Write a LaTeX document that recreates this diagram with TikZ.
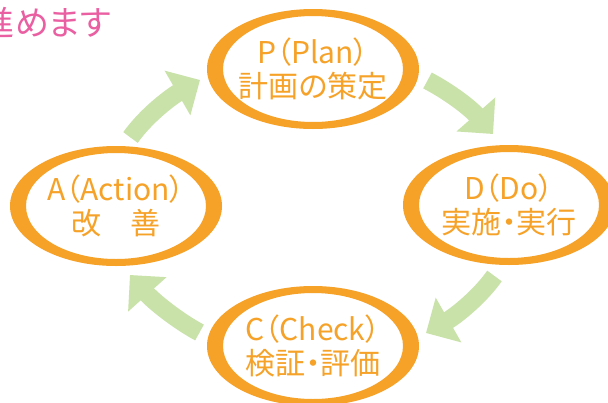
\documentclass[tikz,border=0pt]{standalone}
\usepackage{fontspec}
\newfontfamily\jp[RawFeature={+palt}]{Noto Sans CJK JP}
\usetikzlibrary{arrows.meta}
\definecolor{ringc}{HTML}{F6A228}
\definecolor{arrc}{HTML}{C9E2A9}
\definecolor{titlec}{HTML}{EA5FA2}
\begin{document}
\begin{tikzpicture}[x=1pt,y=-1pt,
  lbl/.style={text=ringc, align=center, font=\jp\fontsize{30}{34}\selectfont, inner sep=0pt},
  cyc/.style={line width=18pt, draw=arrc, fill=arrc, -{Triangle[length=26pt,width=50pt]}},
  ring/.style={fill=ringc, even odd rule}]
\useasboundingbox (0,0) rectangle (608,402);
\fill[white] (0,0) rectangle (608,402);

% centres
\coordinate (pc) at (313,69);
\coordinate (dc) at (509,205);
\coordinate (cc) at (313,346);
\coordinate (ac) at (116,206);

% rings
\fill[ring] (pc) ellipse [x radius=106pt, y radius=60pt] (pc) ellipse [x radius=90pt, y radius=53pt];
\fill[ring] (dc) ellipse [x radius=106pt, y radius=60pt] (dc) ellipse [x radius=90pt, y radius=53pt];
\fill[ring] (cc) ellipse [x radius=106pt, y radius=60pt] (cc) ellipse [x radius=90pt, y radius=53pt];
\fill[ring] (ac) ellipse [x radius=106pt, y radius=60pt] (ac) ellipse [x radius=90pt, y radius=53pt];

% labels
\node[lbl] (P) at (pc) {P（Plan）\\計画の策定};
\node[lbl] (D) at (dc) {D（Do）\\実施・実行};
\node[lbl] (C) at (cc) {C（Check）\\検証・評価};
\node[lbl] (A) at (ac) {A（Action）\\改　善};

% title
\node[anchor=base east, text=titlec, font=\jp\fontsize{34}{38}\selectfont, inner sep=0pt] (title) at (111,35) {進めます};

% cycle arrows
\coordinate (a1s) at (130.5,137.5); \coordinate (a1e) at (200,80);
\draw[cyc] (a1s) .. controls (148,113) and (174,95) .. (a1e);
\coordinate (a2s) at (427.5,80.5); \coordinate (a2e) at (493,134);
\draw[cyc] (a2s) .. controls (449.5,92) and (470,107.75) .. (a2e);
\coordinate (a3s) at (494.5,276); \coordinate (a3e) at (426,333);
\draw[cyc] (a3s) .. controls (480,296.5) and (456.5,315.5) .. (a3e);
\coordinate (a4s) at (199.5,332.5); \coordinate (a4e) at (130,275);
\draw[cyc] (a4s) .. controls (177.4,320.7) and (153.5,301.25) .. (a4e);
\end{tikzpicture}
\end{document}
